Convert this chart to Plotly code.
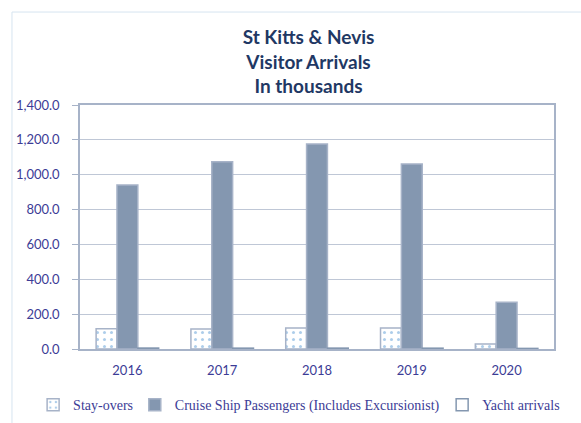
import plotly.graph_objects as go

YEARS = ['2016', '2017', '2018', '2019', '2020']
STAY_OVERS = [116, 115, 121, 120, 29]
CRUISE = [941, 1075, 1176, 1061, 268]
YACHT = [5.5, 5.0, 5.2, 4.8, 3.5]

NAVY = '#1F3864'
LABEL = '#3C3C96'
CRUISE_FILL = '#8497B0'
EDGE = '#A7B3C8'
GRID = '#BFC7D6'

fig = go.Figure()

fig.add_trace(go.Bar(
    x=YEARS, y=STAY_OVERS, name='Stay-overs', legend='legend', showlegend=True,
    marker=dict(
        color='white',
        line=dict(color=EDGE, width=1.5),
        pattern=dict(shape='.', fgcolor='#5B9BD5', bgcolor='white', size=7, solidity=0.15),
    ),
))
fig.add_trace(go.Bar(
    x=YEARS, y=CRUISE, name='Cruise Ship Passengers (Includes Excursionist)', legend='legend2',
    showlegend=True,
    marker=dict(color=CRUISE_FILL, line=dict(color=EDGE, width=1.5)),
))
fig.add_trace(go.Bar(
    x=YEARS, y=YACHT, name='Yacht arrivals', legend='legend3', showlegend=True,
    marker=dict(color='white', line=dict(color=CRUISE_FILL, width=1.5)),
))

legend_font = dict(family='Liberation Serif', size=14, color=LABEL)
legend_base = dict(orientation='h', xref='container', yref='container',
                   yanchor='middle', y=0.042, xanchor='left',
                   font=legend_font, bgcolor='rgba(0,0,0,0)', itemwidth=30)

fig.update_layout(
    width=581, height=423,
    showlegend=True,
    margin=dict(l=80, r=27, t=105, b=74, autoexpand=False),
    paper_bgcolor='white', plot_bgcolor='white',
    barmode='group', bargap=0.34, bargroupgap=0,
    title=dict(
        text='<b>St Kitts & Nevis<br>Visitor Arrivals<br>In thousands</b>',
        xref='container', yref='container',
        x=0.531, xanchor='center', y=0.896, yanchor='middle',
        font=dict(family='Lato', size=19, color=NAVY),
    ),
    font=dict(family='Lato', size=13, color=LABEL),
    legend=dict(legend_base, x=0.057),
    legend2=dict(legend_base, x=0.232),
    legend3=dict(legend_base, x=0.761),
    xaxis=dict(
        showgrid=False, ticks='', showline=True, linecolor=EDGE, linewidth=1.5,
        mirror=True, ticklabelstandoff=9,
        tickfont=dict(family='Lato', size=13, color=LABEL),
    ),
    yaxis=dict(
        range=[0, 1400], dtick=200, tickformat=',.1f',
        showgrid=True, gridcolor=GRID, gridwidth=1.2,
        showline=True, linecolor=EDGE, linewidth=1.5, mirror=True,
        ticks='outside', ticklen=6, tickcolor=EDGE, zeroline=False,
        ticklabelstandoff=10,
        tickfont=dict(family='Lato', size=13, color=LABEL),
    ),
    shapes=[dict(
        type='rect', xref='paper', yref='paper',
        x0=-0.1435, x1=1.2, y0=-0.4, y1=1.381,
        line=dict(color='#D6E4F0', width=1), layer='below',
    )],
)

fig.write_html('out.html', config={'displayModeBar': False},
               post_script="document.body.style.margin='0';")
